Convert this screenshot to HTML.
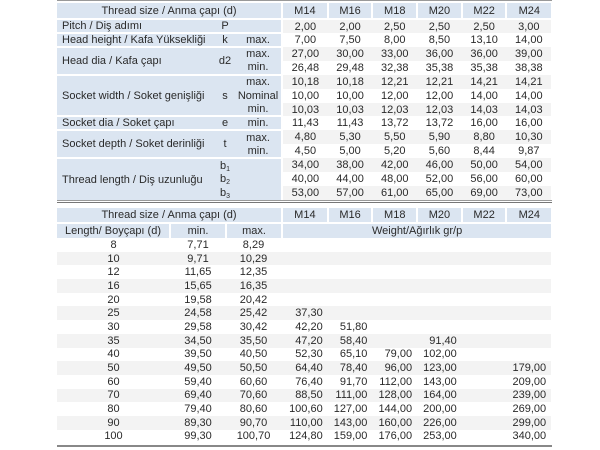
<!DOCTYPE html>
<html><head><meta charset="utf-8"><style>
body{margin:0;width:600px;height:450px;background:#fff;position:relative;overflow:hidden;font-family:"Liberation Sans",sans-serif;font-size:11px;color:#2a2a2a}
table{position:absolute;left:57px;border-collapse:collapse;table-layout:fixed}
td{padding:0;white-space:nowrap;line-height:12px;overflow:hidden}
.h{background:#dbe5f1;text-align:center;border-left:2px solid #fff}
.l{background:#dbe5f1}
.g{background:#f3f3f3}
.c{text-align:center}
.r{text-align:right;padding-right:5px}
.sep{border-top:2px solid #fff}
#t1 td.v{text-align:center}
#t1 tr{height:13.9px}
.line{position:absolute;left:57px;width:495px;background:#999}
sub{font-size:7px;vertical-align:-2px;line-height:0}
</style></head><body>
<div class="line" style="top:0;height:1px"></div>
<table id="t1" style="top:3px;width:494px">
<colgroup><col style="width:158px"><col style="width:20px"><col style="width:46px"><col style="width:2px"><col style="width:44.7px"><col style="width:44.7px"><col style="width:44.7px"><col style="width:44.7px"><col style="width:44.7px"><col style="width:44.7px"></colgroup>
<tr style="height:16px"><td class="h" colspan="3" style="border-left:0">Thread size / Anma çapı (d)</td><td></td><td class="h" style="border-left:0">M14</td><td class="h">M16</td><td class="h">M18</td><td class="h">M20</td><td class="h">M22</td><td class="h">M24</td></tr>
<tr class="sep"><td class="l sep" style="padding-left:5px">Pitch / Diş adımı</td><td class="l sep c">P</td><td class="l sep"></td><td></td><td class="v g">2,00</td><td class="v g">2,00</td><td class="v g">2,50</td><td class="v g">2,50</td><td class="v g">2,50</td><td class="v g">3,00</td></tr>
<tr><td class="l sep" style="padding-left:5px">Head height / Kafa Yüksekliği</td><td class="l sep c">k</td><td class="l sep c">max.</td><td></td><td class="v">7,00</td><td class="v">7,50</td><td class="v">8,00</td><td class="v">8,50</td><td class="v">13,10</td><td class="v">14,00</td></tr>
<tr><td class="l sep" rowspan="2" style="padding-left:5px">Head dia / Kafa çapı</td><td class="l sep c" rowspan="2">d2</td><td class="l sep c">max.</td><td></td><td class="v g">27,00</td><td class="v g">30,00</td><td class="v g">33,00</td><td class="v g">36,00</td><td class="v g">36,00</td><td class="v g">39,00</td></tr>
<tr><td class="l c">min.</td><td></td><td class="v">26,48</td><td class="v">29,48</td><td class="v">32,38</td><td class="v">35,38</td><td class="v">35,38</td><td class="v">38,38</td></tr>
<tr><td class="l sep" rowspan="3" style="padding-left:5px">Socket width / Soket genişliği</td><td class="l sep c" rowspan="3">s</td><td class="l sep c">max.</td><td></td><td class="v g">10,18</td><td class="v g">10,18</td><td class="v g">12,21</td><td class="v g">12,21</td><td class="v g">14,21</td><td class="v g">14,21</td></tr>
<tr><td class="l c">Nominal</td><td></td><td class="v">10,00</td><td class="v">10,00</td><td class="v">12,00</td><td class="v">12,00</td><td class="v">14,00</td><td class="v">14,00</td></tr>
<tr><td class="l c">min.</td><td></td><td class="v g">10,03</td><td class="v g">10,03</td><td class="v g">12,03</td><td class="v g">12,03</td><td class="v g">14,03</td><td class="v g">14,03</td></tr>
<tr><td class="l sep" style="padding-left:5px">Socket dia / Soket çapı</td><td class="l sep c">e</td><td class="l sep c">min.</td><td></td><td class="v">11,43</td><td class="v">11,43</td><td class="v">13,72</td><td class="v">13,72</td><td class="v">16,00</td><td class="v">16,00</td></tr>
<tr><td class="l sep" rowspan="2" style="padding-left:5px">Socket depth / Soket derinliği</td><td class="l sep c" rowspan="2">t</td><td class="l sep c">max.</td><td></td><td class="v g">4,80</td><td class="v g">5,30</td><td class="v g">5,50</td><td class="v g">5,90</td><td class="v g">8,80</td><td class="v g">10,30</td></tr>
<tr><td class="l c">min.</td><td></td><td class="v">4,50</td><td class="v">5,00</td><td class="v">5,20</td><td class="v">5,60</td><td class="v">8,44</td><td class="v">9,87</td></tr>
<tr><td class="l sep" rowspan="3" style="padding-left:5px">Thread length / Diş uzunluğu</td><td class="l sep c">b<sub>1</sub></td><td class="l sep" rowspan="3"></td><td></td><td class="v g">34,00</td><td class="v g">38,00</td><td class="v g">42,00</td><td class="v g">46,00</td><td class="v g">50,00</td><td class="v g">54,00</td></tr>
<tr><td class="l c">b<sub>2</sub></td><td></td><td class="v">40,00</td><td class="v">44,00</td><td class="v">48,00</td><td class="v">52,00</td><td class="v">56,00</td><td class="v">60,00</td></tr>
<tr><td class="l c">b<sub>3</sub></td><td></td><td class="v g">53,00</td><td class="v g">57,00</td><td class="v g">61,00</td><td class="v g">65,00</td><td class="v g">69,00</td><td class="v g">73,00</td></tr>
</table>
<div class="line" style="top:200px;height:1px"></div>
<div class="line" style="top:202px;height:1px;background:#777"></div>
<table style="top:208px;width:494px">
<colgroup><col style="width:113px"><col style="width:56px"><col style="width:55px"><col style="width:2px"><col style="width:44.7px"><col style="width:44.7px"><col style="width:44.7px"><col style="width:44.7px"><col style="width:44.7px"><col style="width:44.7px"></colgroup>
<tr style="height:15px"><td class="h" colspan="3" style="border-left:0">Thread size / Anma çapı (d)</td><td></td><td class="h" style="border-left:0">M14</td><td class="h">M16</td><td class="h">M18</td><td class="h">M20</td><td class="h">M22</td><td class="h">M24</td></tr>
<tr style="height:15px"><td class="h sep" style="border-left:0">Length/ Boyçapı (d)</td><td class="h sep">min.</td><td class="h sep">max.</td><td></td><td class="h sep" colspan="6" style="border-left:0">Weight/Ağırlık gr/p</td></tr>
<tr style="height:13.7px"><td class="c">8</td><td class="c">7,71</td><td class="c">8,29</td><td></td><td></td><td></td><td></td><td></td><td></td><td></td></tr>
<tr style="height:13.7px" class="g"><td class="c">10</td><td class="c">9,71</td><td class="c">10,29</td><td></td><td></td><td></td><td></td><td></td><td></td><td></td></tr>
<tr style="height:13.7px"><td class="c">12</td><td class="c">11,65</td><td class="c">12,35</td><td></td><td></td><td></td><td></td><td></td><td></td><td></td></tr>
<tr style="height:13.7px" class="g"><td class="c">16</td><td class="c">15,65</td><td class="c">16,35</td><td></td><td></td><td></td><td></td><td></td><td></td><td></td></tr>
<tr style="height:13.7px"><td class="c">20</td><td class="c">19,58</td><td class="c">20,42</td><td></td><td></td><td></td><td></td><td></td><td></td><td></td></tr>
<tr style="height:13.7px" class="g"><td class="c">25</td><td class="c">24,58</td><td class="c">25,42</td><td></td><td class="r">37,30</td><td></td><td></td><td></td><td></td><td></td></tr>
<tr style="height:13.7px"><td class="c">30</td><td class="c">29,58</td><td class="c">30,42</td><td></td><td class="r">42,20</td><td class="r">51,80</td><td></td><td></td><td></td><td></td></tr>
<tr style="height:13.7px" class="g"><td class="c">35</td><td class="c">34,50</td><td class="c">35,50</td><td></td><td class="r">47,20</td><td class="r">58,40</td><td></td><td class="r">91,40</td><td></td><td></td></tr>
<tr style="height:13.7px"><td class="c">40</td><td class="c">39,50</td><td class="c">40,50</td><td></td><td class="r">52,30</td><td class="r">65,10</td><td class="r">79,00</td><td class="r">102,00</td><td></td><td></td></tr>
<tr style="height:13.7px" class="g"><td class="c">50</td><td class="c">49,50</td><td class="c">50,50</td><td></td><td class="r">64,40</td><td class="r">78,40</td><td class="r">96,00</td><td class="r">123,00</td><td></td><td class="r">179,00</td></tr>
<tr style="height:13.7px"><td class="c">60</td><td class="c">59,40</td><td class="c">60,60</td><td></td><td class="r">76,40</td><td class="r">91,70</td><td class="r">112,00</td><td class="r">143,00</td><td></td><td class="r">209,00</td></tr>
<tr style="height:13.7px" class="g"><td class="c">70</td><td class="c">69,40</td><td class="c">70,60</td><td></td><td class="r">88,50</td><td class="r">111,00</td><td class="r">128,00</td><td class="r">164,00</td><td></td><td class="r">239,00</td></tr>
<tr style="height:13.7px"><td class="c">80</td><td class="c">79,40</td><td class="c">80,60</td><td></td><td class="r">100,60</td><td class="r">127,00</td><td class="r">144,00</td><td class="r">200,00</td><td></td><td class="r">269,00</td></tr>
<tr style="height:13.7px" class="g"><td class="c">90</td><td class="c">89,30</td><td class="c">90,70</td><td></td><td class="r">110,00</td><td class="r">143,00</td><td class="r">160,00</td><td class="r">226,00</td><td></td><td class="r">299,00</td></tr>
<tr style="height:13.7px"><td class="c">100</td><td class="c">99,30</td><td class="c">100,70</td><td></td><td class="r">124,80</td><td class="r">159,00</td><td class="r">176,00</td><td class="r">253,00</td><td></td><td class="r">340,00</td></tr>
</table>
<div class="line" style="top:445px;height:2px;background:#888"></div>
</body></html>
